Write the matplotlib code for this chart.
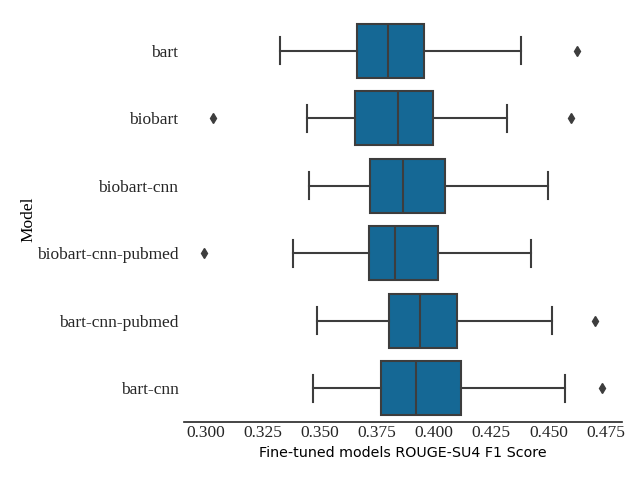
import matplotlib
matplotlib.use("Agg")
import matplotlib.pyplot as plt

models = ["bart", "biobart", "biobart-cnn", "biobart-cnn-pubmed", "bart-cnn-pubmed", "bart-cnn"]
whislo = [0.3325, 0.3446, 0.3452, 0.3382, 0.3487, 0.3469]
q1 = [0.3665, 0.3656, 0.3721, 0.3717, 0.3805, 0.3770]
med = [0.3801, 0.3841, 0.3866, 0.3828, 0.3937, 0.3922]
q3 = [0.3955, 0.3994, 0.4048, 0.4016, 0.4100, 0.4116]
whishi = [0.4382, 0.4321, 0.4497, 0.4422, 0.4514, 0.4575]
fliers = [[0.4624], [0.3035, 0.4597], [], [0.2994], [0.4704], [0.4734]]

stats = []
for i, m in enumerate(models):
    stats.append(dict(label=m, whislo=whislo[i], q1=q1[i], med=med[i], q3=q3[i],
                      whishi=whishi[i], fliers=fliers[i]))

fig = plt.figure(figsize=(6.4, 4.8), dpi=100)
ax = fig.add_axes([0.2875, 0.121, 0.684, 0.844])

gray = "#3d3d3d"
positions = list(range(len(models)))
ax.bxp(stats, positions=positions, vert=False, widths=0.8, patch_artist=True,
       boxprops=dict(facecolor="#156895", edgecolor=gray, linewidth=1.5),
       medianprops=dict(color=gray, linewidth=1.5),
       whiskerprops=dict(color=gray, linewidth=1.5),
       capprops=dict(color=gray, linewidth=1.5),
       flierprops=dict(marker="d", markerfacecolor=gray, markeredgecolor=gray, markersize=5))

ax.set_ylim(len(models) - 0.5, -0.5)
ax.set_yticks(positions)
ax.set_yticklabels(models, fontfamily="Liberation Serif", fontsize=12.5, color="#262626")
ax.set_xticks([0.300, 0.325, 0.350, 0.375, 0.400, 0.425, 0.450, 0.475])
ax.set_xticklabels(["0.300", "0.325", "0.350", "0.375", "0.400", "0.425", "0.450", "0.475"],
                   fontfamily="Liberation Serif", fontsize=12.5, color="#262626")
ax.tick_params(axis="y", length=0, pad=4)
ax.tick_params(axis="x", length=0, pad=2)
ax.set_xlabel("Fine-tuned models ROUGE-SU4 F1 Score", fontfamily="DejaVu Sans", fontsize=10.3,
              labelpad=4)
ax.set_ylabel("Model", fontfamily="Liberation Serif", fontsize=12.5, labelpad=0)
for s in ["top", "right", "left"]:
    ax.spines[s].set_visible(False)
ax.spines["bottom"].set_color("#262626")
ax.spines["bottom"].set_linewidth(1.2)

fig.savefig("out.png", dpi=100)
